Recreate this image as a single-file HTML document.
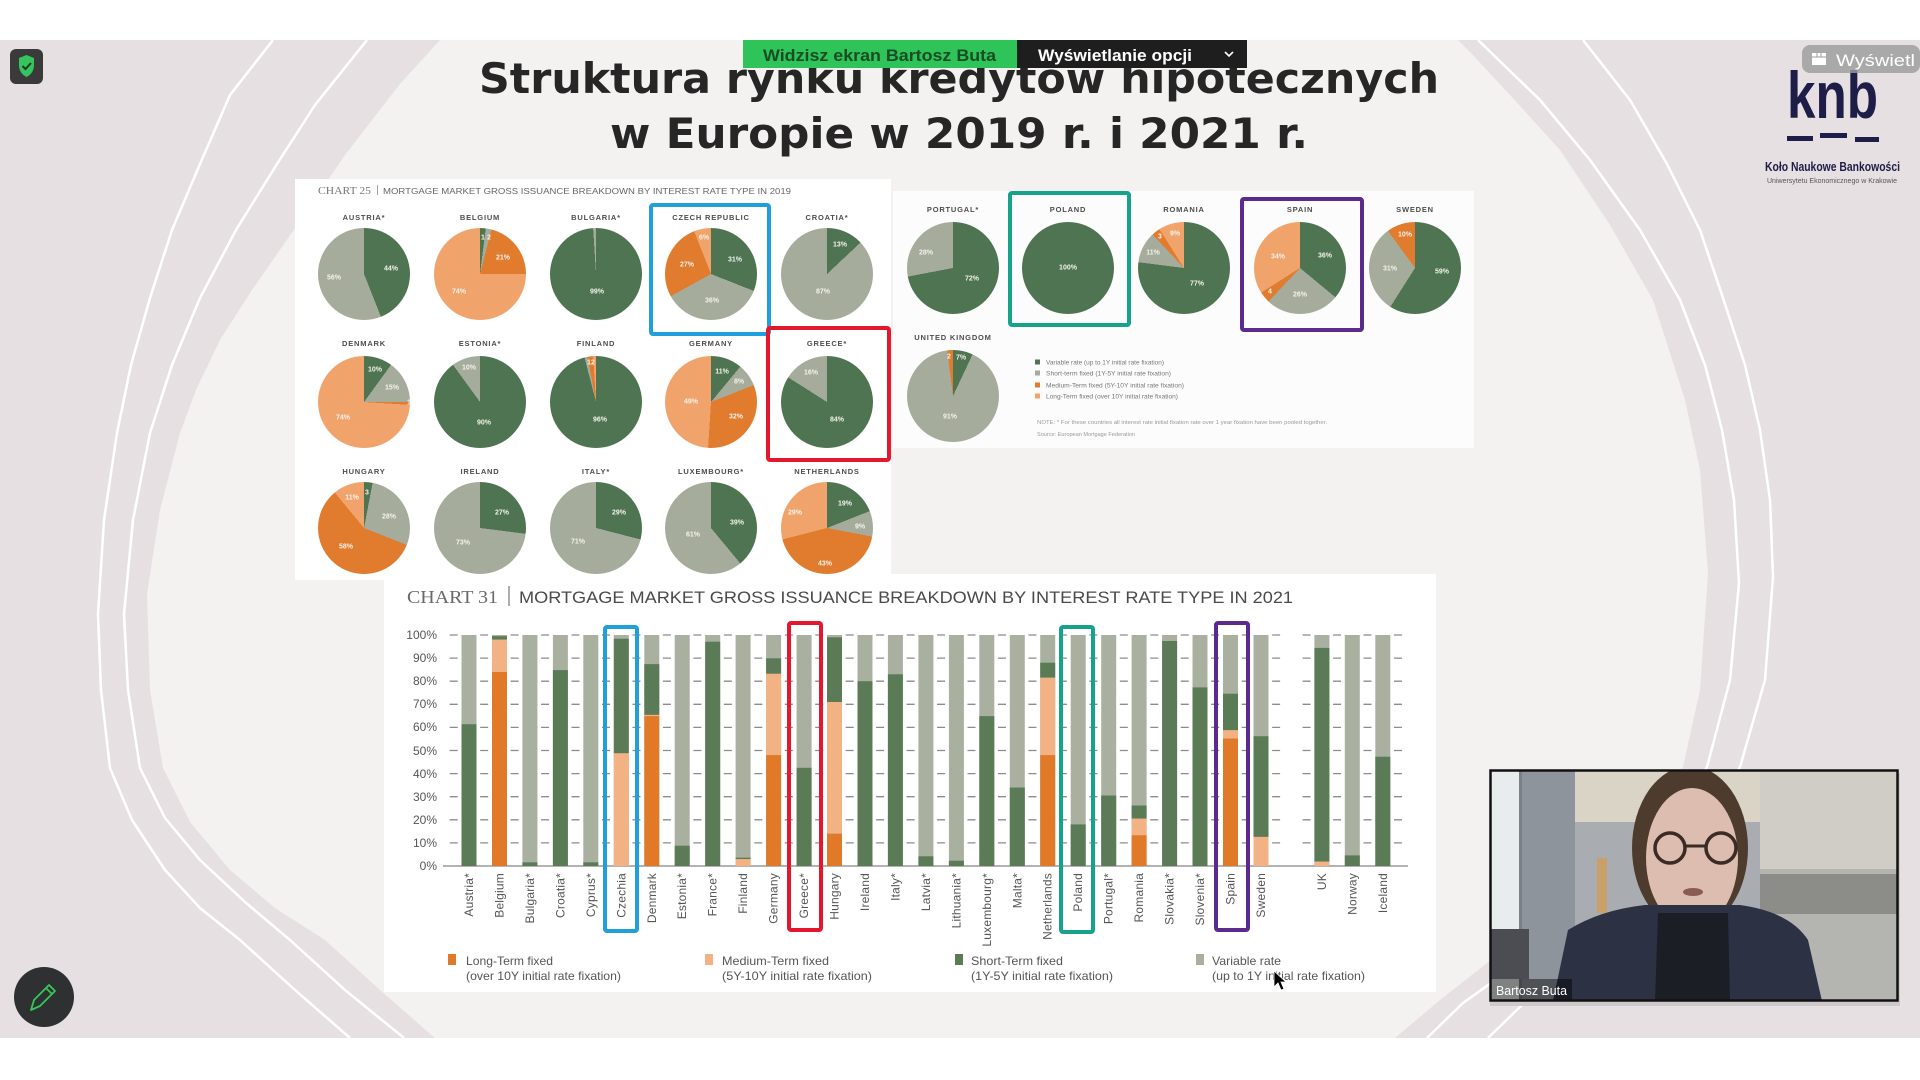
<!DOCTYPE html>
<html><head><meta charset="utf-8">
<style>
html,body{margin:0;padding:0;}
body{width:1920px;height:1080px;position:relative;overflow:hidden;background:#fff;font-family:"Liberation Sans",sans-serif;}
svg{position:absolute;left:0;top:0;}
.p{position:absolute;width:92px;height:92px;border-radius:50%;}
</style></head><body>
<svg width="1920" height="1080" viewBox="0 0 1920 1080" xmlns="http://www.w3.org/2000/svg">
<rect x="0" y="0" width="1920" height="1080" fill="#ffffff"/>
<rect x="0" y="40" width="1920" height="998" fill="#e7e0e2"/>
<polygon fill="#f4f1f1" points="440,40 400,84 345,155 293,231 252,290 220,340 196,390 180,433 160,510 147,594 150,690 163,768 190,822 230,870 275,908 325,940 380,990 435,1038 1395,1038 1440,1000 1510,945 1570,890 1630,830 1683,767 1700,690 1708,573 1700,470 1685,400 1653,300 1610,225 1560,150 1510,95 1470,52 1458,40"/>
<g fill="none" stroke="#ffffff" stroke-width="2.5" stroke-linejoin="round">
<polyline points="273,40 230,95 200,164 172,230 150,298 131,365 117,433 104,520 98,614 101,690 110,768 132,820 165,870 200,908 240,940 295,990 350,1038"/>
<polyline points="367,40 315,105 277,164 236,230 200,298 172,365 150,433 133,520 124,614 128,690 140,768 165,818 200,860 245,902 290,940 345,990 404,1038"/>
<polyline points="1583,40 1630,100 1667,164 1700,230 1723,298 1745,365 1760,430 1770,500 1773,577 1765,680 1740,767 1700,835 1640,900 1580,955 1524,1003 1488,1038"/>
<polyline points="1478,40 1540,100 1590,160 1640,230 1680,300 1705,365 1722,430 1734,500 1739,583 1730,680 1707,767 1665,835 1600,900 1530,955 1463,1003 1427,1038"/>
</g>

<!-- Title -->
<g font-family="'DejaVu Sans',sans-serif" font-weight="bold" font-size="42" fill="#262626" text-anchor="middle">
<text x="959" y="93" textLength="960" lengthAdjust="spacingAndGlyphs">Struktura rynku kredytów hipotecznych</text>
<text x="959" y="148" textLength="698" lengthAdjust="spacingAndGlyphs">w Europie w 2019 r. i 2021 r.</text>
</g>

<!-- panels -->
<rect x="295" y="179" width="596" height="401" fill="#ffffff"/>
<rect x="893" y="191" width="581" height="257" fill="#fcfcfc"/>
<rect x="384" y="574" width="1052" height="418" fill="#ffffff"/>

<!-- Chart 25 header -->
<text x="318" y="194" font-family="'Liberation Serif',serif" font-size="10" fill="#777" textLength="53" lengthAdjust="spacingAndGlyphs">CHART 25</text>
<line x1="377.5" y1="185" x2="377.5" y2="195" stroke="#888" stroke-width="0.8"/>
<text x="383" y="194" font-size="8.5" fill="#666" textLength="408" lengthAdjust="spacingAndGlyphs">MORTGAGE MARKET GROSS ISSUANCE BREAKDOWN BY INTEREST RATE TYPE IN 2019</text>

<!-- Chart 31 header -->
<text x="407" y="603" font-family="'Liberation Serif',serif" font-size="18" fill="#6a6a6a" textLength="91" lengthAdjust="spacingAndGlyphs">CHART 31</text>
<line x1="509" y1="586" x2="509" y2="606" stroke="#777" stroke-width="1.2"/>
<text x="519" y="603" font-size="17" fill="#4a4a4a" textLength="774" lengthAdjust="spacingAndGlyphs">MORTGAGE MARKET GROSS ISSUANCE BREAKDOWN BY INTEREST RATE TYPE IN 2021</text>

<!-- gridlines -->
<path d="M443 842.9H1408M443 819.8H1408M443 796.7H1408M443 773.6H1408M443 750.5H1408M443 727.4H1408M443 704.3H1408M443 681.2H1408M443 658.1H1408M443 635H1408" stroke="#8c8c8c" stroke-width="1.3" stroke-dasharray="8 22.46" stroke-dashoffset="23.76" fill="none"/>
<line x1="443" y1="866" x2="1408" y2="866" stroke="#9a9a9a" stroke-width="1.5"/>
<g font-size="12" fill="#555" text-anchor="end">
<text x="437" y="639">100%</text><text x="437" y="662">90%</text><text x="437" y="685">80%</text><text x="437" y="708">70%</text><text x="437" y="731">60%</text><text x="437" y="755">50%</text><text x="437" y="778">40%</text><text x="437" y="801">30%</text><text x="437" y="824">20%</text><text x="437" y="847">10%</text><text x="437" y="870">0%</text>
</g>

<!-- bars: variable (gray) full -->
<g fill="#a9b09f">
<rect x="461.5" y="635" width="15" height="231"/><rect x="492" y="635" width="15" height="231"/><rect x="522.4" y="635" width="15" height="231"/><rect x="552.9" y="635" width="15" height="231"/><rect x="583.3" y="635" width="15" height="231"/><rect x="613.8" y="635" width="15" height="231"/><rect x="644.3" y="635" width="15" height="231"/><rect x="674.7" y="635" width="15" height="231"/><rect x="705.2" y="635" width="15" height="231"/><rect x="735.6" y="635" width="15" height="231"/><rect x="766.1" y="635" width="15" height="231"/><rect x="796.6" y="635" width="15" height="231"/><rect x="827" y="635" width="15" height="231"/><rect x="857.5" y="635" width="15" height="231"/><rect x="887.9" y="635" width="15" height="231"/><rect x="918.4" y="635" width="15" height="231"/><rect x="948.9" y="635" width="15" height="231"/><rect x="979.3" y="635" width="15" height="231"/><rect x="1009.8" y="635" width="15" height="231"/><rect x="1040.2" y="635" width="15" height="231"/><rect x="1070.7" y="635" width="15" height="231"/><rect x="1101.2" y="635" width="15" height="231"/><rect x="1131.6" y="635" width="15" height="231"/><rect x="1162.1" y="635" width="15" height="231"/><rect x="1192.5" y="635" width="15" height="231"/><rect x="1223" y="635" width="15" height="231"/><rect x="1253.5" y="635" width="15" height="231"/><rect x="1314.4" y="635" width="15" height="231"/><rect x="1344.8" y="635" width="15" height="231"/><rect x="1375.3" y="635" width="15" height="231"/>
</g>
<!-- short-term (green) -->
<g fill="#5b7b56">
<rect x="461.5" y="724.2" width="15" height="141.8"/>
<rect x="492" y="636.2" width="15" height="3.4"/>
<rect x="522.4" y="862.3" width="15" height="3.7"/>
<rect x="552.9" y="670.1" width="15" height="195.9"/>
<rect x="583.3" y="862.3" width="15" height="3.7"/>
<rect x="613.8" y="638.7" width="15" height="114.6"/>
<rect x="644.3" y="664.1" width="15" height="50.8"/>
<rect x="674.7" y="845.7" width="15" height="20.3"/>
<rect x="705.2" y="641.7" width="15" height="224.3"/>
<rect x="735.6" y="857.7" width="15" height="1.4"/>
<rect x="766.1" y="658.3" width="15" height="15.5"/>
<rect x="796.6" y="767.8" width="15" height="98.2"/>
<rect x="827" y="637.3" width="15" height="64.7"/>
<rect x="857.5" y="681.2" width="15" height="184.8"/>
<rect x="887.9" y="674.3" width="15" height="191.7"/>
<rect x="918.4" y="856.3" width="15" height="9.7"/>
<rect x="948.9" y="860.7" width="15" height="5.3"/>
<rect x="979.3" y="716.1" width="15" height="149.9"/>
<rect x="1009.8" y="787.5" width="15" height="78.5"/>
<rect x="1040.2" y="662.7" width="15" height="15"/>
<rect x="1070.7" y="824.4" width="15" height="41.6"/>
<rect x="1101.2" y="795.5" width="15" height="70.5"/>
<rect x="1131.6" y="805.5" width="15" height="13.1"/>
<rect x="1162.1" y="641" width="15" height="225"/>
<rect x="1192.5" y="687.4" width="15" height="178.6"/>
<rect x="1223" y="693.7" width="15" height="36.5"/>
<rect x="1253.5" y="736.2" width="15" height="100.7"/>
<rect x="1314.4" y="647.9" width="15" height="213.7"/>
<rect x="1344.8" y="855.4" width="15" height="10.6"/>
<rect x="1375.3" y="756.7" width="15" height="109.3"/>
</g>
<!-- medium (light orange) -->
<g fill="#f3b283">
<rect x="492" y="639.6" width="15" height="32.4"/>
<rect x="613.8" y="753.3" width="15" height="112.7"/>
<rect x="644.3" y="714.9" width="15" height="1.4"/>
<rect x="735.6" y="859.1" width="15" height="6.9"/>
<rect x="766.1" y="673.8" width="15" height="81.3"/>
<rect x="827" y="702" width="15" height="131.7"/>
<rect x="1040.2" y="677.7" width="15" height="77.4"/>
<rect x="1131.6" y="818.6" width="15" height="16.7"/>
<rect x="1223" y="730.2" width="15" height="8.3"/>
<rect x="1253.5" y="836.9" width="15" height="29.1"/>
<rect x="1314.4" y="861.6" width="15" height="4.4"/>
</g>
<!-- long (dark orange) -->
<g fill="#e07a29">
<rect x="492" y="672" width="15" height="194"/>
<rect x="644.3" y="716.1" width="15" height="149.9"/>
<rect x="766.1" y="755.1" width="15" height="110.9"/>
<rect x="827" y="833.7" width="15" height="32.3"/>
<rect x="1040.2" y="755.1" width="15" height="110.9"/>
<rect x="1131.6" y="835.3" width="15" height="30.7"/>
<rect x="1223" y="738.5" width="15" height="127.5"/>
</g>

<!-- x labels -->
<g font-size="12" fill="#555" text-anchor="end" letter-spacing="0.2">
<text transform="translate(473,873) rotate(-90)">Austria*</text>
<text transform="translate(503.5,873) rotate(-90)">Belgium</text>
<text transform="translate(534,873) rotate(-90)">Bulgaria*</text>
<text transform="translate(564.4,873) rotate(-90)">Croatia*</text>
<text transform="translate(594.8,873) rotate(-90)">Cyprus*</text>
<text transform="translate(625.3,873) rotate(-90)">Czechia</text>
<text transform="translate(655.8,873) rotate(-90)">Denmark</text>
<text transform="translate(686.2,873) rotate(-90)">Estonia*</text>
<text transform="translate(716.7,873) rotate(-90)">France*</text>
<text transform="translate(747.1,873) rotate(-90)">Finland</text>
<text transform="translate(777.6,873) rotate(-90)">Germany</text>
<text transform="translate(808.1,873) rotate(-90)">Greece*</text>
<text transform="translate(838.5,873) rotate(-90)">Hungary</text>
<text transform="translate(869,873) rotate(-90)">Ireland</text>
<text transform="translate(899.4,873) rotate(-90)">Italy*</text>
<text transform="translate(929.9,873) rotate(-90)">Latvia*</text>
<text transform="translate(960.4,873) rotate(-90)">Lithuania*</text>
<text transform="translate(990.8,873) rotate(-90)">Luxembourg*</text>
<text transform="translate(1021.3,873) rotate(-90)">Malta*</text>
<text transform="translate(1051.7,873) rotate(-90)">Netherlands</text>
<text transform="translate(1082.2,873) rotate(-90)">Poland</text>
<text transform="translate(1112.7,873) rotate(-90)">Portugal*</text>
<text transform="translate(1143.1,873) rotate(-90)">Romania</text>
<text transform="translate(1173.6,873) rotate(-90)">Slovakia*</text>
<text transform="translate(1204,873) rotate(-90)">Slovenia*</text>
<text transform="translate(1234.5,873) rotate(-90)">Spain</text>
<text transform="translate(1265,873) rotate(-90)">Sweden</text>
<text transform="translate(1325.9,873) rotate(-90)">UK</text>
<text transform="translate(1356.3,873) rotate(-90)">Norway</text>
<text transform="translate(1386.8,873) rotate(-90)">Iceland</text>
</g>

<!-- bar legend -->
<rect x="448" y="954" width="8" height="11" fill="#e07a29"/>
<rect x="705" y="954" width="8" height="11" fill="#f3b283"/>
<rect x="955" y="954" width="8" height="11" fill="#5b7b56"/>
<rect x="1196" y="954" width="8" height="11" fill="#a9b09f"/>
<g font-size="12" fill="#555">
<text x="466" y="965" textLength="87" lengthAdjust="spacingAndGlyphs">Long-Term fixed</text>
<text x="466" y="980" textLength="155" lengthAdjust="spacingAndGlyphs">(over 10Y initial rate fixation)</text>
<text x="722" y="965" textLength="107" lengthAdjust="spacingAndGlyphs">Medium-Term fixed</text>
<text x="722" y="980" textLength="150" lengthAdjust="spacingAndGlyphs">(5Y-10Y initial rate fixation)</text>
<text x="971" y="965" textLength="92" lengthAdjust="spacingAndGlyphs">Short-Term fixed</text>
<text x="971" y="980" textLength="142" lengthAdjust="spacingAndGlyphs">(1Y-5Y initial rate fixation)</text>
<text x="1212" y="965" textLength="69" lengthAdjust="spacingAndGlyphs">Variable rate</text>
<text x="1212" y="980" textLength="153" lengthAdjust="spacingAndGlyphs">(up to 1Y initial rate fixation)</text>
</g>

<!-- right pie legend -->
<rect x="1035" y="359.5" width="5" height="5" fill="#4e7451"/>
<rect x="1035" y="370.5" width="5" height="5" fill="#a5ac9b"/>
<rect x="1035" y="382.5" width="5" height="5" fill="#e17b2d"/>
<rect x="1035" y="393.5" width="5" height="5" fill="#f1a36c"/>
<g font-size="6.5" fill="#777">
<text x="1046" y="364.5" textLength="118" lengthAdjust="spacingAndGlyphs">Variable rate (up to 1Y initial rate fixation)</text>
<text x="1046" y="375.5" textLength="125" lengthAdjust="spacingAndGlyphs">Short-term fixed (1Y-5Y initial rate fixation)</text>
<text x="1046" y="387.5" textLength="138" lengthAdjust="spacingAndGlyphs">Medium-Term fixed (5Y-10Y initial rate fixation)</text>
<text x="1046" y="398.5" textLength="132" lengthAdjust="spacingAndGlyphs">Long-Term fixed (over 10Y initial rate fixation)</text>
</g>
<text x="1037" y="424" font-size="5.5" fill="#999" textLength="290" lengthAdjust="spacingAndGlyphs">NOTE: * For these countries all interest rate initial fixation rate over 1 year fixation have been pooled together.</text>
<text x="1037" y="436" font-size="5.5" fill="#999" textLength="98" lengthAdjust="spacingAndGlyphs">Source: European Mortgage Federation</text>

<!-- bar highlight boxes -->
<g fill="none" stroke-width="4">
<rect x="605" y="627" width="32" height="304" rx="2" stroke="#1f9fdc"/>
<rect x="789" y="623" width="32" height="307" rx="2" stroke="#e3172e"/>
<rect x="1061" y="627" width="32" height="305" rx="2" stroke="#17a38b"/>
<rect x="1216" y="623" width="32" height="307" rx="2" stroke="#5b2a8c"/>
</g>

<!-- shield icon -->
<rect x="10" y="49" width="33" height="35" rx="6" fill="#3a3a3a"/>
<path d="M19,58 L26.5,55 L34,58 L34,65 Q34,73 26.5,77 Q19,73 19,65 Z" fill="#35c45e"/>
<path d="M22.5,66 L25.5,69 L31,63" stroke="#1e3b24" stroke-width="2" fill="none"/>
<!-- pencil button -->
<circle cx="44" cy="997" r="30" fill="#2e3032"/>
<path d="M31,1010 L34,1000 L49,985 L55,991 L40,1006 Z M46,988 L52,994" stroke="#34c759" stroke-width="1.8" fill="none" stroke-linejoin="round"/>

<!-- logo -->
<text x="1787" y="118" font-size="66" font-weight="bold" fill="#1d1d47" textLength="91" lengthAdjust="spacingAndGlyphs">knb</text>
<rect x="1787" y="136" width="26" height="5" fill="#1d1d47"/>
<rect x="1820" y="133" width="27" height="5" fill="#1d1d47"/>
<rect x="1855" y="137" width="24" height="5" fill="#1d1d47"/>
<text x="1765" y="171" font-size="13" font-weight="bold" fill="#1d1d47" textLength="135" lengthAdjust="spacingAndGlyphs">Koło Naukowe Bankowości</text>
<text x="1767" y="183" font-size="7" fill="#555" textLength="130" lengthAdjust="spacingAndGlyphs">Uniwersytetu Ekonomicznego w Krakowie</text>
<rect x="1802" y="45" width="118" height="28" rx="8" fill="#9c9c9c" fill-opacity="0.82"/>
<rect x="1812" y="53" width="14" height="12" fill="#ffffff"/>
<line x1="1812" y1="57" x2="1826" y2="57" stroke="#9c9c9c" stroke-width="1"/>
<line x1="1817" y1="53" x2="1817" y2="57" stroke="#9c9c9c" stroke-width="1"/>
<line x1="1821" y1="53" x2="1821" y2="57" stroke="#9c9c9c" stroke-width="1"/>
<text x="1836" y="66" font-size="17" fill="#ffffff" textLength="79" lengthAdjust="spacingAndGlyphs">Wyświetl</text>

<!-- toolbar -->
<rect x="743" y="40" width="274" height="28" fill="#2ec45a"/>
<rect x="1017" y="40" width="230" height="28" fill="#1e1e1e"/>
<text x="763" y="61" font-size="17" font-weight="bold" fill="#1b4d25" textLength="233" lengthAdjust="spacingAndGlyphs">Widzisz ekran Bartosz Buta</text>
<text x="1038" y="61" font-size="17" font-weight="bold" fill="#ffffff" textLength="154" lengthAdjust="spacingAndGlyphs">Wyświetlanie opcji</text>
<polyline points="1225,52 1229,56 1233,52" stroke="#fff" stroke-width="1.6" fill="none"/>

<!-- webcam -->
<defs><clipPath id="cam"><rect x="1490" y="770" width="408" height="231"/></clipPath></defs>
<rect x="1490" y="773" width="410" height="233" fill="#cfc9cb"/>
<g clip-path="url(#cam)">
<rect x="1490" y="770" width="408" height="231" fill="#b3b2ab"/>
<rect x="1575" y="770" width="190" height="52" fill="#d9d4c6"/>
<rect x="1575" y="822" width="190" height="179" fill="#a9adb1"/>
<rect x="1521" y="770" width="54" height="231" fill="#8e949b"/>
<rect x="1490" y="770" width="31" height="231" fill="#e9ecec"/>
<rect x="1519" y="770" width="3" height="231" fill="#7c8086"/>
<rect x="1760" y="770" width="138" height="106" fill="#cfcdc5"/>
<rect x="1760" y="869" width="138" height="132" fill="#b4b4b0"/>
<rect x="1760" y="874" width="138" height="40" fill="#8c8c88"/>
<rect x="1597" y="858" width="10" height="55" fill="#c9a06a"/>
<rect x="1491" y="929" width="38" height="50" fill="#4b4d52"/>
<ellipse cx="1690" cy="848" rx="58" ry="82" fill="#4d3b2e"/>
<ellipse cx="1692" cy="858" rx="46" ry="70" fill="#dcbdb0"/>
<circle cx="1670" cy="848" r="15" fill="none" stroke="#3b2b25" stroke-width="3.5"/>
<circle cx="1721" cy="848" r="15" fill="none" stroke="#3b2b25" stroke-width="3.5"/>
<line x1="1685" y1="846" x2="1706" y2="846" stroke="#3b2b25" stroke-width="3"/>
<ellipse cx="1693" cy="892" rx="10" ry="4" fill="#8a5a55"/>
<path d="M1553,1001 L1568,930 Q1600,910 1645,905 L1740,905 Q1790,912 1808,940 L1822,1001 Z" fill="#2c3244"/>
<path d="M1658,913 L1728,913 L1730,1001 L1655,1001 Z" fill="#1c1e26"/>
<rect x="1490" y="979" width="82" height="22" fill="#000" fill-opacity="0.45"/>
<text x="1496" y="995" font-size="13" fill="#ffffff" textLength="71" lengthAdjust="spacingAndGlyphs">Bartosz Buta</text>
</g>
<rect x="1490.5" y="770.5" width="407" height="230" fill="none" stroke="#111" stroke-width="2.5"/>
</svg>

<!-- pies 2019 -->
<div class="p" style="left:318px;top:228px;background:conic-gradient(#4e7451 0 44%,#a5ac9b 44% 100%)"></div>
<div class="p" style="left:434px;top:228px;background:conic-gradient(#4e7451 0 2%,#a5ac9b 2% 4%,#e17b2d 4% 25%,#f1a36c 25% 100%)"></div>
<div class="p" style="left:550px;top:228px;background:conic-gradient(#4e7451 0 99%,#a5ac9b 99% 100%)"></div>
<div class="p" style="left:665px;top:228px;background:conic-gradient(#4e7451 0 31%,#a5ac9b 31% 67%,#e17b2d 67% 94%,#f1a36c 94% 100%)"></div>
<div class="p" style="left:781px;top:228px;background:conic-gradient(#4e7451 0 13%,#a5ac9b 13% 100%)"></div>
<div class="p" style="left:318px;top:356px;background:conic-gradient(#4e7451 0 10%,#a5ac9b 10% 25%,#e17b2d 25% 26%,#f1a36c 26% 100%)"></div>
<div class="p" style="left:434px;top:356px;background:conic-gradient(#4e7451 0 90%,#a5ac9b 90% 100%)"></div>
<div class="p" style="left:550px;top:356px;background:conic-gradient(#4e7451 0 96%,#a5ac9b 96% 97%,#e17b2d 97% 99%,#f1a36c 99% 100%)"></div>
<div class="p" style="left:665px;top:356px;background:conic-gradient(#4e7451 0 11%,#a5ac9b 11% 19%,#e17b2d 19% 51%,#f1a36c 51% 100%)"></div>
<div class="p" style="left:781px;top:356px;background:conic-gradient(#4e7451 0 84%,#a5ac9b 84% 100%)"></div>
<div class="p" style="left:318px;top:482px;background:conic-gradient(#4e7451 0 3%,#a5ac9b 3% 31%,#e17b2d 31% 89%,#f1a36c 89% 100%)"></div>
<div class="p" style="left:434px;top:482px;background:conic-gradient(#4e7451 0 27%,#a5ac9b 27% 100%)"></div>
<div class="p" style="left:550px;top:482px;background:conic-gradient(#4e7451 0 29%,#a5ac9b 29% 100%)"></div>
<div class="p" style="left:665px;top:482px;background:conic-gradient(#4e7451 0 39%,#a5ac9b 39% 100%)"></div>
<div class="p" style="left:781px;top:482px;background:conic-gradient(#4e7451 0 19%,#a5ac9b 19% 28%,#e17b2d 28% 71%,#f1a36c 71% 100%)"></div>
<div class="p" style="left:907px;top:222px;background:conic-gradient(#4e7451 0 72%,#a5ac9b 72% 100%)"></div>
<div class="p" style="left:1022px;top:222px;background:#4e7451"></div>
<div class="p" style="left:1138px;top:222px;background:conic-gradient(#4e7451 0 77%,#a5ac9b 77% 88%,#e17b2d 88% 91%,#f1a36c 91% 100%)"></div>
<div class="p" style="left:1254px;top:222px;background:conic-gradient(#4e7451 0 36%,#a5ac9b 36% 62%,#e17b2d 62% 66%,#f1a36c 66% 100%)"></div>
<div class="p" style="left:1369px;top:222px;background:conic-gradient(#4e7451 0 59%,#a5ac9b 59% 90%,#e17b2d 90% 100%)"></div>
<div class="p" style="left:907px;top:350px;background:conic-gradient(#4e7451 0 7%,#a5ac9b 7% 98%,#e17b2d 98% 100%)"></div>

<svg width="1920" height="1080" viewBox="0 0 1920 1080" xmlns="http://www.w3.org/2000/svg">
<!-- pie country names -->
<g font-size="7.5" font-weight="bold" fill="#4d4d4d" text-anchor="middle" letter-spacing="0.8">
<text x="364" y="220">AUSTRIA*</text><text x="480" y="220">BELGIUM</text><text x="596" y="220">BULGARIA*</text><text x="711" y="220">CZECH REPUBLIC</text><text x="827" y="220">CROATIA*</text>
<text x="364" y="346">DENMARK</text><text x="480" y="346">ESTONIA*</text><text x="596" y="346">FINLAND</text><text x="711" y="346">GERMANY</text><text x="827" y="346">GREECE*</text>
<text x="364" y="474">HUNGARY</text><text x="480" y="474">IRELAND</text><text x="596" y="474">ITALY*</text><text x="711" y="474">LUXEMBOURG*</text><text x="827" y="474">NETHERLANDS</text>
<text x="953" y="212">PORTUGAL*</text><text x="1068" y="212">POLAND</text><text x="1184" y="212">ROMANIA</text><text x="1300" y="212">SPAIN</text><text x="1415" y="212">SWEDEN</text>
<text x="953" y="340">UNITED KINGDOM</text>
</g>
<!-- pie percent labels -->
<g font-size="7" font-weight="bold" fill="#f4f2ec" text-anchor="middle" dominant-baseline="central">
<text x="391" y="269">44%</text><text x="334" y="278">56%</text>
<text x="483" y="238">1</text><text x="489" y="238">2</text><text x="503" y="258">21%</text><text x="459" y="292">74%</text>
<text x="597" y="292">99%</text>
<text x="735" y="260">31%</text><text x="712" y="301">36%</text><text x="687" y="265">27%</text><text x="704" y="238">6%</text>
<text x="840" y="245">13%</text><text x="823" y="292">87%</text>
<text x="375" y="370">10%</text><text x="392" y="388">15%</text><text x="343" y="418">74%</text><text x="409" y="403">1</text>
<text x="484" y="423">90%</text><text x="469" y="368">10%</text>
<text x="600" y="420">96%</text><text x="589" y="363">1</text><text x="593" y="363">2</text>
<text x="722" y="372">11%</text><text x="739" y="382">8%</text><text x="736" y="417">32%</text><text x="691" y="402">49%</text>
<text x="837" y="420">84%</text><text x="811" y="373">16%</text>
<text x="367" y="493">3</text><text x="389" y="517">28%</text><text x="346" y="547">58%</text><text x="352" y="498">11%</text>
<text x="502" y="513">27%</text><text x="463" y="543">73%</text>
<text x="619" y="513">29%</text><text x="578" y="542">71%</text>
<text x="737" y="523">39%</text><text x="693" y="535">61%</text>
<text x="845" y="504">19%</text><text x="860" y="527">9%</text><text x="825" y="564">43%</text><text x="795" y="513">29%</text>
<text x="972" y="279">72%</text><text x="926" y="253">28%</text>
<text x="1068" y="268">100%</text>
<text x="1197" y="284">77%</text><text x="1153" y="253">11%</text><text x="1160" y="237">3</text><text x="1175" y="234">9%</text>
<text x="1325" y="256">36%</text><text x="1300" y="295">26%</text><text x="1270" y="292">4</text><text x="1278" y="257">34%</text>
<text x="1442" y="272">59%</text><text x="1390" y="269">31%</text><text x="1405" y="235">10%</text>
<text x="961" y="358">7%</text><text x="949" y="357">2</text><text x="950" y="417">91%</text>
</g>
<!-- pie highlight boxes -->
<g fill="none" stroke-width="4">
<rect x="651" y="205" width="118" height="129" rx="2" stroke="#1f9fdc"/>
<rect x="768" y="328" width="121" height="132" rx="2" stroke="#e3172e"/>
<rect x="1010" y="193" width="119" height="132" rx="2" stroke="#17a38b"/>
<rect x="1242" y="199" width="120" height="131" rx="2" stroke="#5b2a8c"/>
</g>
<!-- cursor -->
<polygon points="1274,971 1274,987 1278,983 1281,990 1284,989 1281,982 1286,982" fill="#000" stroke="#fff" stroke-width="0.8"/>
</svg>
</body></html>
